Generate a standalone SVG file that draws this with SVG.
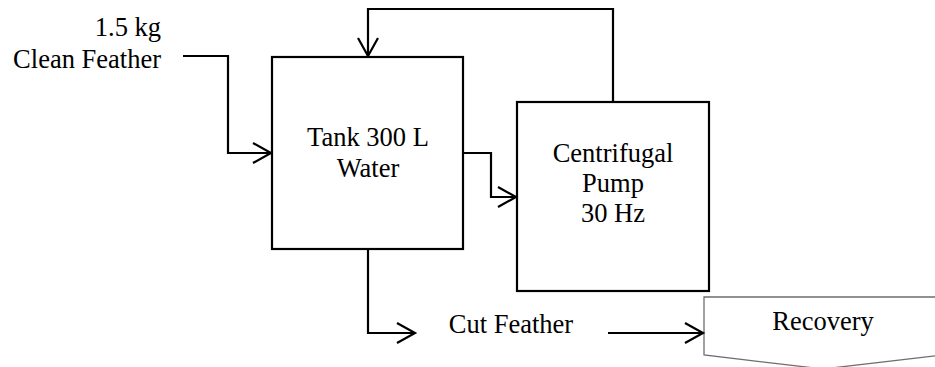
<svg xmlns="http://www.w3.org/2000/svg" width="935" height="367" viewBox="0 0 935 367">
<style>
  text { font-family: "Liberation Serif", "Times New Roman", serif; font-size: 26.5px; fill: #000; }
  .box { fill: #fff; stroke: #000; stroke-width: 2.2; }
  .conn { fill: none; stroke: #000; stroke-width: 2.2; marker-end: url(#arr); }
  .off { fill: #fff; stroke: #6e6e6e; stroke-width: 1.3; }
</style>
<defs>
  <marker id="arr" markerUnits="userSpaceOnUse" markerWidth="24" markerHeight="26" viewBox="0 0 24 26" refX="20" refY="13" orient="auto">
    <path d="M2,3 L20,13 L2,23" fill="none" stroke="#000" stroke-width="2.2"/>
  </marker>
</defs>
<rect width="935" height="367" fill="#fff"/>
<g id="feed-label">
  <text x="161" y="36" text-anchor="end">1.5 kg</text>
  <text x="161" y="68" text-anchor="end">Clean Feather</text>
</g>
<g id="tank">
  <rect class="box" x="272" y="57" width="191" height="192"/>
  <text x="368" y="146" text-anchor="middle">Tank 300 L</text>
  <text x="368" y="177" text-anchor="middle">Water</text>
</g>
<g id="pump">
  <rect class="box" x="517" y="102" width="192" height="189"/>
  <text x="613" y="162" text-anchor="middle">Centrifugal</text>
  <text x="613" y="192" text-anchor="middle">Pump</text>
  <text x="613" y="222" text-anchor="middle">30 Hz</text>
</g>
<g id="cut-feather">
  <text x="511" y="333" text-anchor="middle">Cut Feather</text>
</g>
<g id="recovery">
  <polygon class="off" points="704,297 942,297 942,355 823,369 704,355"/>
  <text x="823" y="330" text-anchor="middle">Recovery</text>
</g>
<g id="connectors">
  <path class="conn" d="M183,56 H228 V153 H271"/>
  <path class="conn" d="M613,102 V9 H368 V56"/>
  <path class="conn" d="M463,153 H491 V197 H516"/>
  <path class="conn" d="M368,249 V333 H415"/>
  <path class="conn" d="M608,333 H703"/>
</g>
</svg>
